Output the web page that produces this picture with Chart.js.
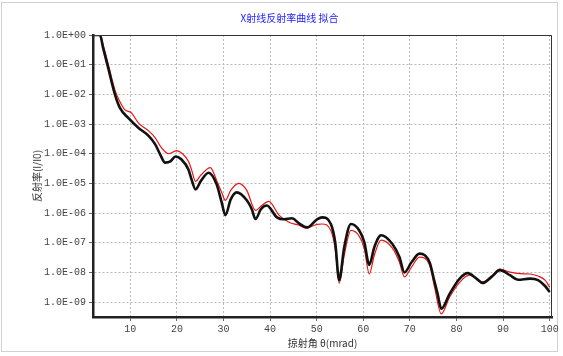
<!DOCTYPE html>
<html>
<head>
<meta charset="utf-8">
<script src="https://cdn.jsdelivr.net/npm/chart.js@4"></script>
<style>
  html, body { margin: 0; padding: 0; background: #fff; }
  #wrap { width: 563px; height: 356px; position: relative; }
</style>
</head>
<body>
<div id="wrap"><canvas id="c" width="563" height="356"></canvas></div>
<script>
// measured curve (black)
let measAngle = [2, 3.5, 4.18, 5.26, 6.7, 7.78, 9.57, 11.72, 13.88, 15.32, 16.4, 17.48, 18.62, 19.7, 20.99,
    22.5, 23.15, 24.01, 25.09, 26.81, 28.53, 29.61, 30.41, 31.55, 32.84, 35.0, 36.08, 36.87, 38.02, 39.31,
    41.47, 42.97, 44.7, 46.21, 47.93, 50.09, 51.16, 53.04, 53.97, 54.83, 55.91, 57.35, 59.14, 60.22, 61.29,
    62.37, 63.81, 66.25, 67.76, 68.84, 70.34, 72.07, 74.22, 75.3, 75.95, 76.74, 78.53, 80.69, 82.41, 84.29,
    85.65, 87.52, 89.31, 91.47, 93.19, 95.78, 97.5, 99.01, 100];
let measValue = [1, 1, 0.36, 0.078, 1.0e-2, 3.5e-3, 1.6e-3, 7.5e-4, 4.1e-4, 2.1e-4, 9.6e-5, 5.0e-5, 5.5e-5, 8.1e-5, 6.4e-5,
    2.9e-5, 1.35e-5, 6.3e-6, 1.17e-5, 2.3e-5, 9.3e-6, 2.3e-6, 8.5e-7, 2.9e-6, 5.0e-6, 2.7e-6, 1.35e-6, 6.3e-7, 1.35e-6, 1.8e-6,
    7.2e-7, 6.2e-7, 6.7e-7, 4.5e-7, 3.3e-7, 6.2e-7, 7.2e-7, 4.3e-7, 1.05e-7, 5.5e-9, 7.1e-8, 4.3e-7, 2.6e-7, 1.05e-7, 1.8e-8,
    7.1e-8, 1.8e-7, 9.1e-8, 3.3e-8, 1.0e-8, 2.2e-8, 4.3e-8, 2.2e-8, 4.8e-9, 1.9e-9, 6.0e-10, 1.9e-9, 6.2e-9, 9.5e-9, 6.2e-9,
    4.4e-9, 7.1e-9, 1.2e-8, 8.1e-9, 5.7e-9, 6.2e-9, 5.5e-9, 3.5e-9, 2.2e-9];

// fitted curve (red)
let fitAngle = [2, 3.5, 4.18, 5.26, 6.7, 7.78, 8.86, 10.22, 11.72, 13.88, 15.32, 16.68, 18.19, 19.91, 21.21,
    22.5, 23.15, 24.01, 25.09, 27.18, 28.53, 29.61, 30.41, 31.55, 33.28, 35.0, 36.87, 38.02, 39.74, 41.9,
    44.05, 46.21, 47.65, 50.09, 51.16, 53.04, 53.97, 54.83, 55.91, 57.35, 59.14, 60.22, 61.29, 62.37, 63.81,
    66.25, 67.76, 68.84, 70.34, 72.07, 74.22, 75.3, 76.74, 78.53, 81.34, 82.84, 85.65, 87.52, 89.31, 91.47,
    93.62, 95.78, 97.5, 99.01, 100];
let fitValue = [1, 1, 0.46, 0.107, 0.0142, 5.6e-3, 3.0e-3, 2.4e-3, 1.1e-3, 6.0e-4, 3.5e-4, 1.6e-4, 1.0e-4, 1.28e-4, 1.0e-4,
    5.5e-5, 2.9e-5, 1.17e-5, 1.86e-5, 3.4e-5, 1.26e-5, 5.0e-6, 2.7e-6, 5.8e-6, 1.0e-5, 5.8e-6, 1.23e-6, 1.7e-6, 2.5e-6, 8.5e-7,
    4.9e-7, 3.9e-7, 3.1e-7, 4.2e-7, 4.3e-7, 2.6e-7, 6.2e-8, 4.4e-9, 3.8e-8, 2.6e-7, 1.66e-7, 6.2e-8, 8.9e-9, 3.8e-8, 1.23e-7,
    6.6e-8, 2.2e-8, 7.1e-9, 1.5e-8, 3.3e-8, 1.8e-8, 3.2e-9, 4.0e-10, 1.5e-9, 6.0e-9, 8.1e-9, 4.8e-9, 7.6e-9, 1.3e-8, 1.03e-8,
    9.1e-9, 8.9e-9, 7.6e-9, 5.5e-9, 3.2e-9];

let xTicks = [10, 20, 30, 40, 50, 60, 70, 80, 90, 100];
let yExponents = [0, -1, -2, -3, -4, -5, -6, -7, -8, -9];

function toPoints(xs, ys) {
    let pts = [];
    for (let i in xs) {
        pts.push({x: xs[i], y: ys[i]});
    }
    return pts;
}

function sci(v) {
    let e = Math.round(Math.log10(v));
    return "1.0E" + (e < 0 ? "-" : "+") + String(Math.abs(e)).padStart(2, "0");
}

let tickFont = {family: "Liberation Mono", size: 10};

// plot frame + outer frame
const frame = {
    id: "frame",
    beforeDraw(chart) {
        let ctx = chart.ctx;
        ctx.save();
        ctx.fillStyle = "#fff";
        ctx.fillRect(0, 0, chart.width, chart.height);
        ctx.strokeStyle = "#d0d0d0";
        ctx.lineWidth = 1;
        ctx.strokeRect(1.5, 2.5, 556, 349);
        ctx.restore();
    },
    afterDatasetsDraw(chart) {
        let a = chart.chartArea;
        let ctx = chart.ctx;
        ctx.save();
        ctx.strokeStyle = "#333";
        ctx.lineWidth = 1;
        ctx.beginPath();
        ctx.moveTo(a.left, a.top + 0.5);
        ctx.lineTo(a.right - 0.5, a.top + 0.5);
        ctx.lineTo(a.right - 0.5, a.bottom);
        ctx.stroke();
        ctx.restore();
    }
};

new Chart(document.getElementById("c").getContext("2d"), {
    type: "line",
    data: {
        datasets: [{
            label: "measured",
            data: toPoints(measAngle, measValue),
            borderColor: "#111",
            borderWidth: 2.6,
            pointRadius: 0,
            fill: false,
            cubicInterpolationMode: "monotone"
        }, {
            label: "fit",
            data: toPoints(fitAngle, fitValue),
            borderColor: "rgb(235, 20, 20)",
            borderWidth: 1.2,
            pointRadius: 0,
            fill: false,
            cubicInterpolationMode: "monotone"
        }]
    },
    options: {
        responsive: false,
        animation: false,
        layout: {padding: {left: 27, right: 11, top: 0, bottom: 7}},
        plugins: {
            legend: {display: false},
            tooltip: {enabled: false},
            title: {
                display: true,
                text: "X射线反射率曲线 拟合",
                color: "#1a1aff",
                font: {family: "Noto Sans CJK SC", size: 10, weight: "normal"},
                padding: {top: 12, bottom: 11}
            }
        },
        scales: {
            x: {
                type: "linear",
                min: 2,
                max: 100.5,
                afterBuildTicks: (s) => { s.ticks = xTicks.map(v => ({value: v})); },
                ticks: {color: "#444", font: tickFont, padding: 2, maxRotation: 0},
                grid: {color: "#b8b8b8", tickLength: 4, tickColor: "#666"},
                border: {color: "#222", width: 2.5, dash: [2, 2]},
                title: {
                    display: true,
                    text: "掠射角 θ(mrad)",
                    color: "#333",
                    font: {family: "Noto Sans CJK SC", size: 10},
                    padding: {top: 0, bottom: 0}
                }
            },
            y: {
                type: "logarithmic",
                min: Math.pow(10, -9.5),
                max: 1,
                afterBuildTicks: (s) => { s.ticks = yExponents.map(e => ({value: Math.pow(10, e)})); },
                afterFit: (s) => { s.width = 66; },
                ticks: {color: "#444", font: tickFont, padding: 3, callback: (v) => sci(v)},
                grid: {color: "#b8b8b8", tickLength: 4, tickColor: "#666"},
                border: {color: "#222", width: 2.5, dash: [2, 2]},
                title: {
                    display: true,
                    text: "反射率(I/I0)",
                    color: "#333",
                    font: {family: "Noto Sans CJK SC", size: 10},
                    padding: {top: 4, bottom: 0}
                }
            }
        }
    },
    plugins: [frame]
});
</script>
</body>
</html>
